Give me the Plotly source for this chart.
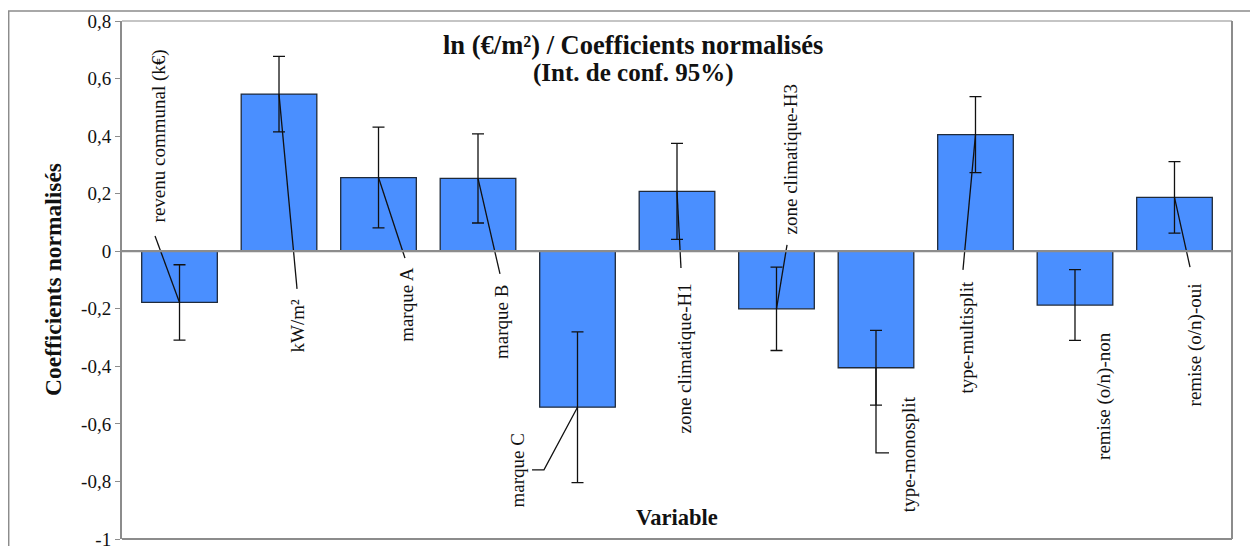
import plotly.graph_objects as go

# ---------------- data ----------------
categories = ["revenu communal (k€)", "kW/m²", "marque A", "marque B", "marque C",
              "zone climatique-H1", "zone climatique-H3", "type-monosplit",
              "type-multisplit", "remise (o/n)-non", "remise (o/n)-oui"]
coef = [-0.178, 0.546, 0.256, 0.253, -0.542, 0.208, -0.200, -0.405, 0.405, -0.187, 0.187]
ci95 = [0.131, 0.131, 0.175, 0.155, 0.262, 0.167, 0.145, 0.130, 0.132, 0.123, 0.124]
y_tickvals = [0.8, 0.6, 0.4, 0.2, 0, -0.2, -0.4, -0.6, -0.8, -1]
y_ticktext = ["0,8", "0,6", "0,4", "0,2", "0", "-0,2", "-0,4", "-0,6", "-0,8", "-1"]
title_lines = ["ln (€/m²) / Coefficients normalisés", "(Int. de conf. 95%)"]

# ---------------- label layout (offsets from the category, y in axis units) ----------------
lab_dx = [-0.206, 0.186, 0.286, 0.236, -0.608, 0.080, 0.136, 0.322, -0.085, 0.291, 0.206]
lab_y = [0.399, -0.260, -0.183, -0.244, -0.762, -0.373, 0.319, -0.705, -0.300, -0.503, -0.324]
# leader line start points (dx, y); None = no leader; elbow = extra point
lead_dx = [-0.246, 0.181, 0.266, 0.221, -0.457, 0.040, 0.106, 0.131, -0.126, None, 0.156]
lead_y = [0.053, -0.131, -0.024, -0.079, -0.760, -0.058, 0.022, -0.701, -0.065, None, -0.055]
elbow_dx = [None, None, None, None, -0.337, None, None, 0.0, None, None, None]

SERIF = "Liberation Serif"
GREY = "#8c8c8c"

x_idx = list(range(len(categories)))

fig = go.Figure()
fig.add_trace(go.Bar(
    x=x_idx, y=coef, width=0.76,
    marker=dict(color="#4a8fff", line=dict(color="#1f2a3a", width=1.3)),
    error_y=dict(type="data", array=ci95, visible=True, color="#111111",
                 thickness=1.3, width=6),
    hoverinfo="skip", showlegend=False,
))

shapes = []
annotations = []
for i in x_idx:
    annotations.append(dict(
        x=i + lab_dx[i], y=lab_y[i], xref="x", yref="y",
        text=categories[i], showarrow=False, textangle=-90,
        xanchor="center", yanchor="middle",
        font=dict(family=SERIF, size=19, color="#111111"),
    ))
    if lead_dx[i] is not None:
        pts = [(i + lead_dx[i], lead_y[i])]
        if elbow_dx[i] is not None:
            pts.append((i + elbow_dx[i], lead_y[i]))
        pts.append((i, coef[i]))
        path = "M " + " L ".join(f"{px},{py}" for px, py in pts)
        shapes.append(dict(type="path", path=path, xref="x", yref="y",
                           line=dict(color="#111111", width=1.3)))

# zero line
shapes.append(dict(type="line", xref="paper", yref="y", x0=0, x1=1, y0=0, y1=0,
                   line=dict(color=GREY, width=2.2), layer="above"))
# plot border top/right/bottom
shapes.append(dict(type="line", xref="paper", yref="paper", x0=0, x1=1, y0=1, y1=1,
                   line=dict(color=GREY, width=1.2)))
shapes.append(dict(type="line", xref="paper", yref="paper", x0=1, x1=1, y0=0, y1=1,
                   line=dict(color=GREY, width=2)))
shapes.append(dict(type="line", xref="paper", yref="paper", x0=0, x1=1, y0=0, y1=0,
                   line=dict(color=GREY, width=2)))
# outer chart frame
shapes.append(dict(type="rect", xref="paper", yref="paper",
                   x0=-113.3 / 1110, x1=1.2, y0=-0.05, y1=1 + 10 / 518,
                   line=dict(color=GREY, width=1.5), layer="below"))

title_y = [1 - 24 / 518, 1 - 52 / 518]
title_size = [26.5, 25]
for txt, ty, ts in zip(title_lines, title_y, title_size):
    annotations.append(dict(
        x=0.4604, y=ty, xref="paper", yref="paper",
        text=f"<b>{txt}</b>", showarrow=False, xanchor="center", yanchor="middle",
        font=dict(family=SERIF, size=ts, color="#111111"),
    ))
annotations.append(dict(
    x=-69 / 1110, y=0.5, xref="paper", yref="paper",
    text="<b>Coefficients normalisés</b>", showarrow=False, textangle=-90,
    xanchor="center", yanchor="middle",
    font=dict(family=SERIF, size=23.5, color="#111111"),
))
annotations.append(dict(
    x=0.5, y=22 / 518, xref="paper", yref="paper",
    text="<b>Variable</b>", showarrow=False, xanchor="center", yanchor="middle",
    font=dict(family=SERIF, size=22.5, color="#111111"),
))

fig.update_layout(
    width=1250, height=538,
    margin=dict(l=114, r=26, t=13, b=7, autoexpand=False),
    paper_bgcolor="white", plot_bgcolor="white",
    shapes=shapes, annotations=annotations,
    xaxis=dict(range=[-0.578, 10.578], showticklabels=False, showgrid=False,
               zeroline=False, showline=False, ticks=""),
    yaxis=dict(range=[-1, 0.8], tickvals=y_tickvals, ticktext=y_ticktext,
               showgrid=False, zeroline=False, showline=True, linecolor=GREY,
               linewidth=2, ticks="outside", ticklen=5, tickcolor=GREY,
               tickwidth=1.2, ticklabeloverflow="allow",
               tickfont=dict(family=SERIF, size=19, color="#111111")),
    bargap=0.24,
)

fig.write_html("out.html")
